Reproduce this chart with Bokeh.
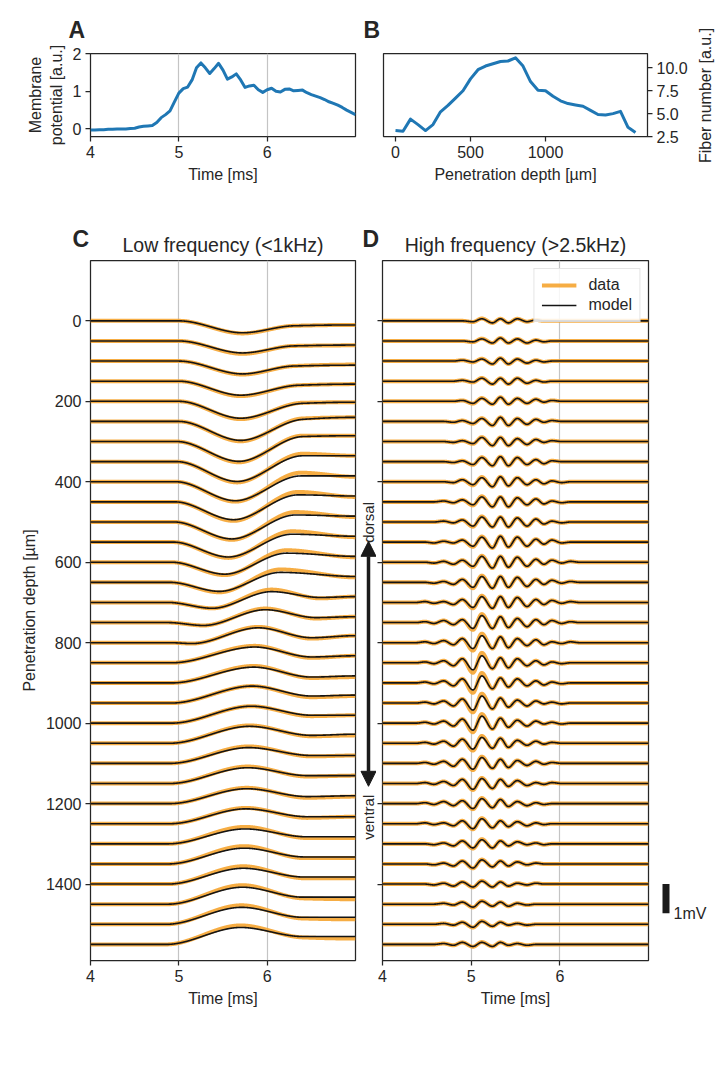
import numpy as np
from bokeh.plotting import figure
from bokeh.layouts import row, column
from bokeh.models import (Range1d, FixedTicker, Legend, LegendItem,
                          Arrow, NormalHead, PrintfTickFormatter)
from bokeh.embed import file_html
from bokeh.resources import INLINE
from bokeh.core.properties import value

# ---------------- data ----------------
A_TIME_MS = [4.00, 4.05, 4.10, 4.15, 4.20, 4.25, 4.30, 4.35, 4.40, 4.45, 4.50, 4.55, 4.60, 4.65,
             4.70, 4.75, 4.80, 4.85, 4.90, 4.95, 5.00, 5.05, 5.10, 5.15, 5.20, 5.25, 5.30, 5.35,
             5.40, 5.45, 5.50, 5.55, 5.60, 5.65, 5.70, 5.75, 5.80, 5.85, 5.90, 5.95, 6.00, 6.05,
             6.10, 6.15, 6.20, 6.25, 6.30, 6.35, 6.40, 6.45, 6.50, 6.55, 6.60, 6.65, 6.70, 6.75,
             6.80, 6.85, 6.90, 6.95, 7.00]
A_POTENTIAL = [-0.03, -0.03, -0.02, -0.02, -0.01, -0.01, 0.00, 0.00, 0.00, 0.01, 0.02, 0.05, 0.07, 0.08,
               0.09, 0.17, 0.30, 0.38, 0.48, 0.72, 0.95, 1.07, 1.11, 1.30, 1.62, 1.75, 1.62, 1.47,
               1.60, 1.74, 1.56, 1.32, 1.38, 1.46, 1.30, 1.10, 1.14, 1.16, 1.04, 0.97, 1.04, 1.08,
               1.00, 0.98, 1.05, 1.06, 1.01, 1.02, 1.03, 0.96, 0.91, 0.87, 0.83, 0.78, 0.72, 0.68,
               0.63, 0.57, 0.50, 0.44, 0.38]

B_DEPTH_UM = [0, 50, 100, 150, 200, 250, 300, 350, 400, 450, 500, 550, 600, 650, 700, 750, 800,
              850, 900, 950, 1000, 1050, 1100, 1150, 1200, 1250, 1300, 1350, 1400, 1450, 1500,
              1550, 1600]
B_FIBERS = [3.15, 3.08, 4.40, 3.80, 3.15, 3.80, 5.20, 5.90, 6.70, 7.50, 8.80, 9.80, 10.20, 10.45,
            10.70, 10.75, 11.10, 10.20, 8.50, 7.55, 7.50, 6.90, 6.40, 6.10, 5.95, 5.80, 5.35, 4.90,
            4.85, 5.00, 5.25, 3.50, 2.95]

TRACE_DEPTH_UM = [0, 50, 100, 150, 200, 250, 300, 350, 400, 450, 500, 550, 600, 650, 700, 750,
                  800, 850, 900, 950, 1000, 1050, 1100, 1150, 1200, 1250, 1300, 1350, 1400, 1450,
                  1500, 1550]

# Low-frequency traces: key times [ms] and key values [mV] (model and data)
C_KEY_T = [
    [5.00, 5.72, 6.30, 7.00], [5.00, 5.72, 6.30, 7.00], [5.00, 5.72, 6.30, 7.00],
    [5.00, 5.70, 6.35, 7.00], [5.00, 5.70, 6.40, 7.00], [5.00, 5.70, 6.40, 7.00],
    [4.98, 5.68, 6.40, 7.00], [4.98, 5.66, 6.40, 7.00], [4.97, 5.64, 6.38, 7.00],
    [4.96, 5.62, 6.35, 7.00], [4.95, 5.60, 6.32, 7.00], [4.94, 5.56, 6.28, 7.00],
    [4.92, 5.52, 6.22, 7.00], [4.90, 5.46, 6.15, 7.00], [4.88, 5.38, 6.05, 6.60, 7.00],
    [4.88, 5.28, 5.98, 6.55, 7.00], [4.90, 5.15, 5.90, 6.50, 7.00], [4.92, 5.86, 6.50, 7.00],
    [4.92, 5.85, 6.50, 7.00], [4.92, 5.83, 6.50, 7.00], [4.92, 5.82, 6.50, 7.00],
    [4.90, 5.80, 6.50, 7.00], [4.90, 5.79, 6.50, 7.00], [4.90, 5.78, 6.45, 7.00],
    [4.90, 5.77, 6.45, 7.00], [4.90, 5.76, 6.45, 7.00], [4.88, 5.75, 6.45, 7.00],
    [4.88, 5.74, 6.42, 7.00], [4.88, 5.73, 6.42, 7.00], [4.88, 5.72, 6.40, 7.00],
    [4.86, 5.71, 6.40, 7.00], [4.86, 5.70, 6.40, 7.00]]
C_MODEL_MV = [
    [0, -0.41, -0.17, -0.14], [0, -0.41, -0.17, -0.14], [0, -0.44, -0.17, -0.14],
    [0, -0.48, -0.14, -0.10], [0, -0.58, -0.07, -0.03], [0, -0.65, 0.07, 0.14],
    [0, -0.68, 0.17, 0.20], [0, -0.68, 0.20, 0.20], [0, -0.65, 0.20, 0.20],
    [0, -0.61, 0.24, 0.20], [0, -0.58, 0.24, 0.20], [0, -0.51, 0.27, 0.20],
    [0, -0.41, 0.31, 0.20], [0, -0.31, 0.34, 0.20], [0, -0.20, 0.37, 0.17, 0.20],
    [0, -0.10, 0.44, 0.17, 0.20], [0, -0.03, 0.51, 0.17, 0.24], [0, 0.54, 0.20, 0.24],
    [0, 0.54, 0.20, 0.24], [0, 0.58, 0.24, 0.27], [0, 0.58, 0.27, 0.27],
    [0, 0.58, 0.27, 0.31], [0, 0.54, 0.27, 0.27], [0, 0.54, 0.27, 0.27],
    [0, 0.51, 0.24, 0.27], [0, 0.51, 0.24, 0.24], [0, 0.51, 0.24, 0.24],
    [0, 0.54, 0.24, 0.24], [0, 0.54, 0.24, 0.24], [0, 0.58, 0.24, 0.24],
    [0, 0.58, 0.24, 0.24], [0, 0.58, 0.27, 0.27]]
C_DATA_MV = [
    [0, -0.43, -0.17, -0.14], [0, -0.44, -0.17, -0.15], [0, -0.46, -0.17, -0.12],
    [0, -0.51, -0.14, -0.10], [0, -0.61, -0.05, -0.03], [0, -0.68, 0.10, 0.14],
    [0, -0.71, 0.20, 0.20], [0, -0.71, 0.27, 0.20], [0, -0.68, 0.31, 0.17],
    [0, -0.65, 0.34, 0.17], [0, -0.61, 0.34, 0.17], [0, -0.54, 0.37, 0.17],
    [0, -0.44, 0.41, 0.17], [0, -0.34, 0.44, 0.17], [0, -0.20, 0.44, 0.14, 0.20],
    [0, -0.10, 0.48, 0.14, 0.20], [0, -0.03, 0.54, 0.14, 0.24], [0, 0.58, 0.17, 0.24],
    [0, 0.58, 0.17, 0.20], [0, 0.58, 0.20, 0.24], [0, 0.58, 0.24, 0.27],
    [0, 0.61, 0.24, 0.27], [0, 0.58, 0.24, 0.27], [0, 0.58, 0.24, 0.27],
    [0, 0.54, 0.20, 0.24], [0, 0.54, 0.20, 0.24], [0, 0.58, 0.20, 0.20],
    [0, 0.61, 0.20, 0.20], [0, 0.61, 0.20, 0.20], [0, 0.65, 0.20, 0.17],
    [0, 0.65, 0.20, 0.17], [0, 0.65, 0.24, 0.20]]

# High-frequency traces: times of the alternating extrema [ms], their sign,
# and per-trace magnitudes [mV]
D_EXTREMA_T = [4.48, 4.58, 4.69, 4.80, 4.90, 5.02, 5.12, 5.24, 5.33, 5.42, 5.52, 5.63, 5.73,
               5.82, 5.91, 6.02, 6.12, 6.22]
D_EXTREMA_SIGN = [1, -1, 1, -1, 1, -1, 1, -1, 1, -1, 1, -1, 1, -1, 1, -1, 1, -1]
D_MODEL_MV = [
    [0, 0, 0, 0, 0, .03, .07, .07, .07, .07, .07, .03, .03, 0, 0, 0, 0, 0],
    [0, 0, 0, 0, 0, .03, .07, .07, .10, .07, .07, .07, .03, .03, 0, 0, 0, 0],
    [0, 0, 0, 0, .03, .03, .07, .10, .10, .10, .07, .07, .03, .03, 0, 0, 0, 0],
    [0, 0, 0, 0, .03, .03, .10, .10, .10, .10, .10, .07, .03, .03, 0, 0, 0, 0],
    [0, 0, 0, 0, .03, .07, .10, .10, .14, .10, .10, .07, .07, .03, .03, 0, 0, 0],
    [0, 0, 0, .03, .03, .07, .10, .14, .14, .14, .10, .10, .07, .03, .03, 0, 0, 0],
    [0, 0, 0, .03, .03, .07, .14, .14, .14, .14, .10, .10, .07, .03, .03, 0, 0, 0],
    [0, 0, 0, .03, .03, .10, .14, .14, .17, .14, .14, .10, .07, .07, .03, 0, 0, 0],
    [0, 0, 0, .03, .07, .10, .14, .17, .17, .14, .14, .10, .07, .07, .03, .03, 0, 0],
    [0, 0, .03, .03, .07, .10, .17, .17, .17, .17, .14, .10, .10, .07, .03, .03, 0, 0],
    [0, 0, .03, .03, .07, .14, .17, .17, .17, .17, .14, .14, .10, .07, .03, .03, 0, 0],
    [0, .03, .03, .03, .07, .14, .17, .20, .20, .17, .17, .14, .10, .07, .07, .03, 0, 0],
    [0, .03, .03, .07, .07, .14, .20, .20, .20, .17, .17, .14, .10, .07, .07, .03, .03, 0],
    [0, .03, .03, .07, .10, .17, .20, .20, .20, .17, .17, .14, .10, .07, .07, .03, .03, 0],
    [.03, .03, .03, .07, .10, .17, .20, .20, .20, .17, .17, .14, .10, .07, .07, .03, .03, 0],
    [.03, .03, .07, .07, .10, .20, .24, .20, .20, .17, .14, .14, .10, .07, .07, .03, .03, 0],
    [.03, .03, .07, .07, .14, .20, .24, .20, .20, .17, .14, .10, .10, .07, .03, .03, .03, 0],
    [.03, .03, .07, .10, .14, .24, .24, .20, .17, .17, .14, .10, .07, .07, .03, .03, 0, 0],
    [.03, .03, .07, .10, .14, .24, .24, .20, .17, .14, .14, .10, .07, .07, .03, .03, 0, 0],
    [.03, .03, .07, .10, .14, .24, .24, .20, .17, .14, .10, .10, .07, .03, .03, .03, 0, 0],
    [.03, .03, .07, .10, .14, .24, .24, .20, .17, .14, .10, .10, .07, .03, .03, .03, 0, 0],
    [.03, .03, .07, .10, .14, .20, .20, .17, .17, .14, .10, .07, .07, .03, .03, 0, 0, 0],
    [.03, .03, .07, .10, .14, .20, .20, .17, .14, .14, .10, .07, .07, .03, .03, 0, 0, 0],
    [.03, .03, .07, .07, .14, .20, .17, .17, .14, .10, .10, .07, .03, .03, .03, 0, 0, 0],
    [.03, .03, .07, .07, .10, .17, .17, .14, .14, .10, .07, .07, .03, .03, 0, 0, 0, 0],
    [.03, .03, .03, .07, .10, .17, .17, .14, .10, .10, .07, .07, .03, .03, 0, 0, 0, 0],
    [0, .03, .03, .07, .10, .14, .14, .14, .10, .07, .07, .03, .03, .03, 0, 0, 0, 0],
    [0, .03, .03, .07, .10, .14, .14, .10, .10, .07, .07, .03, .03, 0, 0, 0, 0, 0],
    [0, .03, .03, .07, .07, .10, .10, .10, .07, .07, .03, .03, .03, 0, 0, 0, 0, 0],
    [0, 0, .03, .03, .07, .10, .10, .07, .07, .07, .03, .03, 0, 0, 0, 0, 0, 0],
    [0, 0, .03, .03, .07, .10, .10, .07, .07, .03, .03, .03, 0, 0, 0, 0, 0, 0],
    [0, 0, .03, .03, .07, .07, .07, .07, .07, .03, .03, .03, 0, 0, 0, 0, 0, 0]]
# extra size of the recorded data at the main trough/peak (5.02 ms, 5.12 ms) [mV]
D_DATA_EXTRA_MV = [0.01, 0.01, 0.01, 0.01, 0.01, 0.01, 0.01, 0.01, 0.02, 0.02, 0.02, 0.02,
                   0.02, 0.03, 0.03, 0.05, 0.07, 0.10, 0.10, 0.08, 0.07, 0.05, 0.03, 0.02,
                   0.02, 0.02, 0.02, 0.01, 0.01, 0.01, 0.01, 0.01]

UM_PER_MV = 72.6        # vertical size of 1 mV in the trace panels
SCALE_BAR_MV = 1.0

Y_TICKS = [0, 200, 400, 600, 800, 1000, 1200, 1400]

PANEL_LETTERS = ["A", "B", "C", "D"]
PANEL_TITLES = ["Low frequency (<1kHz)", "High frequency (>2.5kHz)"]

# ---------------- style ----------------
FONT = "Liberation Sans"
TXT = "#262626"
BLUE = "#1f77b4"
ORANGE = "#f5a430"
MODEL = "#141414"
GRID = "#c4c4c4"


def smooth(tk, vk, t):
    """monotone cubic curve through the key points"""
    tk = np.asarray(tk, float)
    vk = np.asarray(vk, float)
    h = np.diff(tk)
    d = np.diff(vk) / h
    m = np.zeros_like(vk)
    for i in range(1, len(tk) - 1):
        if d[i - 1] * d[i] > 0:
            w1 = 2 * h[i] + h[i - 1]
            w2 = h[i] + 2 * h[i - 1]
            m[i] = (w1 + w2) / (w1 / d[i - 1] + w2 / d[i])
    idx = np.clip(np.searchsorted(tk, t, side="right") - 1, 0, len(tk) - 2)
    s = (t - tk[idx]) / h[idx]
    h00 = 2 * s**3 - 3 * s**2 + 1
    h10 = s**3 - 2 * s**2 + s
    h01 = -2 * s**3 + 3 * s**2
    h11 = s**3 - s**2
    return h00 * vk[idx] + h10 * h[idx] * m[idx] + h01 * vk[idx + 1] + h11 * h[idx] * m[idx + 1]


def style(p, grid_x=None):
    p.outline_line_color = TXT
    p.outline_line_width = 1.25
    p.background_fill_color = "white"
    p.border_fill_color = "white"
    for ax in p.axis:
        ax.axis_line_color = None
        ax.major_tick_line_color = TXT
        ax.major_tick_line_width = 1.25
        ax.major_tick_out = 5
        ax.major_tick_in = 0
        ax.minor_tick_line_color = None
        ax.major_label_text_font = FONT
        ax.major_label_text_font_size = "16px"
        ax.major_label_text_color = TXT
        ax.axis_label_text_font = FONT
        ax.axis_label_text_font_size = "16px"
        ax.axis_label_text_font_style = "normal"
        ax.axis_label_text_color = TXT
        ax.major_label_standoff = 4
        ax.axis_label_standoff = 5
    p.ygrid.grid_line_color = None
    if grid_x is None:
        p.xgrid.grid_line_color = None
    else:
        p.xgrid.ticker = FixedTicker(ticks=grid_x)
        p.xgrid.grid_line_color = GRID
        p.xgrid.grid_line_width = 1.2


def blank(p):
    p.outline_line_color = None
    p.grid.grid_line_color = None
    p.background_fill_color = "white"
    p.border_fill_color = "white"


common = dict(output_backend="svg", toolbar_location=None)
no_axes = dict(x_axis_location=None, y_axis_location=None,
               min_border_left=0, min_border_right=0, min_border_top=0, min_border_bottom=0)

# ---------------- header above A/B (pixel coordinates, y down) ----------------
hA = figure(width=695, height=43, x_range=Range1d(0, 695), y_range=Range1d(43, 0),
            **no_axes, **common)
blank(hA)
hA.text(x=[68, 363], y=[29.5, 29.5], text=PANEL_LETTERS[:2], text_font=value(FONT),
        text_font_size="23px", text_font_style="bold", text_color=TXT,
        text_align="left", text_baseline="middle")

# ---------------- A ----------------
pA = figure(width=357, height=157, x_range=Range1d(4, 7), y_range=Range1d(-0.2, 2.0),
            min_border_left=90, min_border_right=2, min_border_top=10, min_border_bottom=64,
            **common)
pA.line(A_TIME_MS, A_POTENTIAL, line_color=BLUE, line_width=3, line_join="round")
pA.xaxis.ticker = FixedTicker(ticks=[4, 5, 6])
pA.yaxis.ticker = FixedTicker(ticks=[0, 1, 2])
pA.xaxis.axis_label = "Time [ms]"
pA.yaxis.axis_label = "Membrane\npotential [a.u.]"
style(pA, grid_x=[5, 6])

# ---------------- B ----------------
pB = figure(width=338, height=157, x_range=Range1d(-80, 1680), y_range=Range1d(2.5, 11.57),
            y_axis_location="right",
            min_border_left=26, min_border_right=48, min_border_top=10, min_border_bottom=64,
            **common)
pB.line(B_DEPTH_UM, B_FIBERS, line_color=BLUE, line_width=3, line_join="round")
pB.xaxis.ticker = FixedTicker(ticks=[0, 500, 1000])
pB.yaxis.ticker = FixedTicker(ticks=[2.5, 5.0, 7.5, 10.0])
pB.yaxis.formatter = PrintfTickFormatter(format="%.1f")
pB.xaxis.axis_label = "Penetration depth [µm]"
style(pB)

# strip on the right of B holding its (long) y-axis title
sB = figure(width=20, height=200, x_range=Range1d(0, 20), y_range=Range1d(200, 0),
            **no_axes, **common)
blank(sB)
sB.text(x=[10], y=[95], text=["Fiber number [a.u.]"], angle=np.pi / 2,
        text_font=value(FONT), text_font_size="16px", text_color=TXT,
        text_align="center", text_baseline="middle")

# ---------------- header above C/D ----------------
hC = figure(width=712, height=58, x_range=Range1d(0, 712), y_range=Range1d(58, 0),
            **no_axes, **common)
blank(hC)
hC.text(x=[72, 362], y=[38, 38], text=PANEL_LETTERS[2:], text_font=value(FONT),
        text_font_size="23px", text_font_style="bold", text_color=TXT,
        text_align="left", text_baseline="middle")
hC.text(x=[222.5, 515], y=[44, 44], text=PANEL_TITLES, text_font=value(FONT),
        text_font_size="19.5px", text_color=TXT, text_align="center", text_baseline="middle")

# ---------------- traces ----------------
t_fine = np.linspace(4.0, 7.0, 1201)
c_xs, c_model, c_data = [], [], []
for k, depth in enumerate(TRACE_DEPTH_UM):
    tk = [4.0] + C_KEY_T[k]
    vm = smooth(tk, [0.0] + C_MODEL_MV[k], t_fine)
    vd = smooth(tk, [0.0] + C_DATA_MV[k], t_fine)
    c_xs.append(t_fine.tolist())
    c_model.append((depth - vm * UM_PER_MV).tolist())
    c_data.append((depth - vd * UM_PER_MV).tolist())

d_xs, d_model, d_data = [], [], []
d_tk = [4.0, 4.38] + D_EXTREMA_T + [6.32, 7.0]
for k, depth in enumerate(TRACE_DEPTH_UM):
    mags = np.array(D_MODEL_MV[k], float)
    dmags = mags.copy()
    dmags[5] += D_DATA_EXTRA_MV[k]
    dmags[6] += D_DATA_EXTRA_MV[k]
    sign = np.array(D_EXTREMA_SIGN, float)
    vm = smooth(d_tk, [0, 0] + list(mags * sign) + [0, 0], t_fine)
    vd = smooth(d_tk, [0, 0] + list(dmags * sign) + [0, 0], t_fine)
    d_xs.append(t_fine.tolist())
    d_model.append((depth - vm * UM_PER_MV).tolist())
    d_data.append((depth - vd * UM_PER_MV).tolist())

y_rng = Range1d(1590, -150)
H = 762

# ---------------- C ----------------
pC = figure(width=357, height=H, x_range=Range1d(4, 7), y_range=y_rng,
            min_border_left=90, min_border_right=2, min_border_top=2, min_border_bottom=60,
            **common)
pC.multi_line(c_xs, c_data, line_color=ORANGE, line_width=4, line_alpha=0.9, line_join="round")
pC.multi_line(c_xs, c_model, line_color=MODEL, line_width=1.6, line_join="round")
pC.xaxis.ticker = FixedTicker(ticks=[4, 5, 6])
pC.yaxis.ticker = FixedTicker(ticks=Y_TICKS)
pC.xaxis.axis_label = "Time [ms]"
pC.yaxis.axis_label = "Penetration depth [µm]"
style(pC, grid_x=[5, 6])

# ---------------- arrow strip ----------------
pM = figure(width=19, height=H, x_range=Range1d(0, 19), y_range=y_rng,
            x_axis_location=None, y_axis_location=None,
            min_border_left=0, min_border_right=0, min_border_top=2, min_border_bottom=60,
            **common)
blank(pM)
pM.add_layout(Arrow(x_start=11, y_start=1157, x_end=11, y_end=548,
                    line_width=3.5, line_color="#1a1a1a",
                    start=NormalHead(size=15, fill_color="#1a1a1a", line_color="#1a1a1a"),
                    end=NormalHead(size=15, fill_color="#1a1a1a", line_color="#1a1a1a")))
pM.text(x=[10.5, 10.5], y=[501, 1234], text=["dorsal", "ventral"], angle=np.pi / 2,
        text_font=value(FONT), text_font_size="15px", text_color=TXT,
        text_align="center", text_baseline="middle")

# ---------------- D ----------------
pD = figure(width=274, height=H, x_range=Range1d(4, 7), y_range=y_rng,
            min_border_left=6, min_border_right=2, min_border_top=2, min_border_bottom=60,
            **common)
r_data = pD.multi_line(d_xs, d_data, line_color=ORANGE, line_width=4, line_alpha=0.9,
                       line_join="round")
r_model = pD.multi_line(d_xs, d_model, line_color=MODEL, line_width=1.6, line_join="round")
pD.xaxis.ticker = FixedTicker(ticks=[4, 5, 6])
pD.yaxis.ticker = FixedTicker(ticks=Y_TICKS)
pD.xaxis.axis_label = "Time [ms]"
style(pD, grid_x=[5, 6])
pD.yaxis.major_label_overrides = {t: "" for t in Y_TICKS}
pD.yaxis.major_label_standoff = 0
legend = Legend(items=[LegendItem(label="data", renderers=[r_data]),
                       LegendItem(label="model", renderers=[r_model])],
                location="top_right", margin=8, padding=7, spacing=2,
                glyph_width=35, glyph_height=18, label_standoff=12,
                label_text_font=FONT, label_text_font_size="16px", label_text_color=TXT,
                border_line_color="#cccccc", border_line_width=1,
                background_fill_alpha=0.85)
pD.add_layout(legend)

# ---------------- scale bar strip ----------------
pS = figure(width=62, height=H, x_range=Range1d(0, 62), y_range=y_rng,
            x_axis_location=None, y_axis_location=None,
            min_border_left=0, min_border_right=0, min_border_top=2, min_border_bottom=60,
            **common)
blank(pS)
pS.quad(left=[12], right=[19], top=[1400], bottom=[1400 + SCALE_BAR_MV * UM_PER_MV],
        fill_color="#1a1a1a", line_color=None)
pS.text(x=[23], y=[1474], text=["1mV"], text_font=value(FONT), text_font_size="16px",
        text_color=TXT, text_align="left", text_baseline="alphabetic")

layout = column(row(column(hA, row(pA, pB)), sB), hC, row(pC, pM, pD, pS))

with open("out.html", "w") as f:
    f.write(file_html(layout, INLINE))
